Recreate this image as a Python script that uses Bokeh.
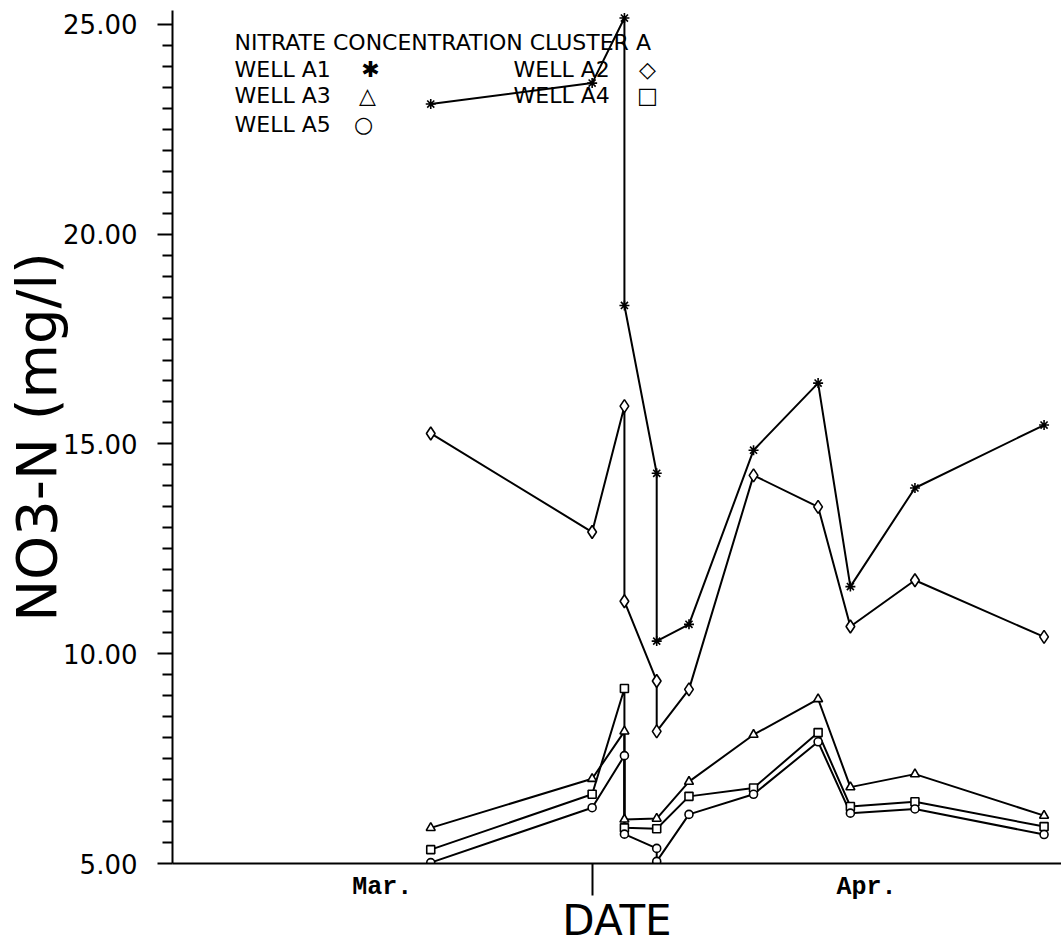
from bokeh.plotting import figure
from bokeh.models import Range1d, FixedTicker, PrintfTickFormatter, Label
from bokeh.embed import file_html
from bokeh.resources import INLINE

# Sampling dates as (month, day); repeated days are successive samples on that day
dates_a1_a2_a5 = [(3, 27), (4, 1), (4, 2), (4, 2), (4, 3), (4, 3), (4, 4),
                  (4, 6), (4, 8), (4, 9), (4, 11), (4, 15)]
dates_a3_a4 = [(3, 27), (4, 1), (4, 2), (4, 2), (4, 3), (4, 4),
               (4, 6), (4, 8), (4, 9), (4, 11), (4, 15)]

# NO3-N concentrations (mg/l)
well_a1 = [23.1, 23.6, 25.15, 18.3, 14.3, 10.3, 10.7, 14.85, 16.45, 11.6, 13.95, 15.45]
well_a2 = [15.25, 12.9, 15.9, 11.25, 9.35, 8.15, 9.15, 14.25, 13.5, 10.65, 11.75, 10.4]
well_a3 = [5.85, 7.02, 8.15, 6.05, 6.07, 6.95, 8.07, 8.92, 6.82, 7.13, 6.14]
well_a4 = [5.33, 6.65, 9.17, 5.85, 5.83, 6.6, 6.8, 8.12, 6.36, 6.47, 5.88]
well_a5 = [5.02, 6.33, 7.57, 5.7, 5.36, 5.05, 6.17, 6.65, 7.9, 6.2, 6.3, 5.69]

y_ticks = [5, 10, 15, 20, 25]
month_names = ["Mar.", "Apr."]


def day_offset(md):
    """Days relative to April 1 (March has 31 days)."""
    m, d = md
    return d - 1 if m == 4 else d - 32


x_a1 = [day_offset(d) for d in dates_a1_a2_a5]
x_a3 = [day_offset(d) for d in dates_a3_a4]

# Visible date window: Mar 19 .. mid April; month names sit mid-way in each month span
x_start, x_end = -13, 14.54
month_label_pos = [(x_start + 0) / 2, (0 + 17) / 2]

p = figure(width=1061, height=948,
           x_range=Range1d(x_start, x_end), y_range=Range1d(5, 25.33),
           output_backend="svg", toolbar_location=None,
           min_border_left=172, min_border_right=0,
           min_border_top=10, min_border_bottom=85)
p.grid.visible = False
p.outline_line_color = None
p.background_fill_color = "white"
p.border_fill_color = "white"

series = [
    (x_a1, well_a1, "asterisk", 10),
    (x_a1, well_a2, "diamond", 13),
    (x_a3, well_a3, "triangle", 9),
    (x_a3, well_a4, "square", 8),
    (x_a1, well_a5, "circle", 8),
]

for xs, ys, _, _ in series:
    p.line(xs, ys, line_color="black", line_width=2)
for xs, ys, marker, size in series:
    p.scatter(xs, ys, marker=marker, size=size, line_color="black",
              fill_color="white", line_width=1.6)

# X axis: month names between ticks, one long tick at the month boundary
xa = p.xaxis[0]
xa.ticker = FixedTicker(ticks=month_label_pos, minor_ticks=[0])
xa.major_label_overrides = {pos: name for pos, name in zip(month_label_pos, month_names)}
xa.major_tick_out = 0
xa.major_tick_in = 0
xa.minor_tick_out = 32
xa.minor_tick_in = 0
xa.minor_tick_line_width = 2
xa.minor_tick_line_color = "black"
xa.axis_line_width = 2
xa.axis_line_color = "black"
xa.major_label_text_font = "Liberation Mono"
xa.major_label_text_font_style = "bold"
xa.major_label_text_font_size = "25px"
xa.major_label_text_color = "black"
xa.major_label_standoff = -23
xa.axis_label = "DATE"
xa.axis_label_text_font = "DejaVu Sans"
xa.axis_label_text_font_style = "normal"
xa.axis_label_text_font_size = "42px"
xa.axis_label_text_color = "black"
xa.axis_label_standoff = -9

# Y axis
ya = p.yaxis[0]
ya.ticker = FixedTicker(ticks=y_ticks,
                        minor_ticks=[5 + 0.5 * i for i in range(41) if i % 10])
ya.formatter = PrintfTickFormatter(format="%.2f")
ya.major_tick_out = 15
ya.major_tick_in = 0
ya.minor_tick_out = 10
ya.minor_tick_in = 0
ya.major_tick_line_width = 2
ya.minor_tick_line_width = 2
ya.axis_line_width = 2
ya.axis_line_color = "black"
ya.major_tick_line_color = "black"
ya.minor_tick_line_color = "black"
ya.major_label_text_font = "DejaVu Sans"
ya.major_label_text_font_size = "26px"
ya.major_label_text_color = "black"
ya.major_label_standoff = 20
ya.axis_label = "NO3-N (mg/l)"
ya.axis_label_text_font = "DejaVu Sans"
ya.axis_label_text_font_style = "normal"
ya.axis_label_text_font_size = "56px"
ya.axis_label_text_color = "black"
ya.axis_label_standoff = -9

# Key block in the upper left of the plot area
key_font = "DejaVu Sans"
key_size = "22px"
key_rows = [
    ("NITRATE CONCENTRATION CLUSTER A", 62, 821, None, 0),
    ("WELL A1", 62, 794, "\u2731", 198),
    ("WELL A2", 341, 794, "\u25C7", 475),
    ("WELL A3", 62, 768, "\u25B3", 195),
    ("WELL A4", 341, 768, "\u25A1", 475),
    ("WELL A5", 62, 739, "\u25CB", 191),
]
for text, kx, ky, sym, sx in key_rows:
    p.add_layout(Label(x=kx, y=ky, x_units="screen", y_units="screen", text=text,
                       text_font=key_font, text_font_size=key_size,
                       text_baseline="alphabetic", text_color="black"))
    if sym:
        p.add_layout(Label(x=sx, y=ky, x_units="screen", y_units="screen", text=sym,
                           text_font=key_font, text_font_size="22px",
                           text_align="center", text_baseline="alphabetic",
                           text_color="black"))

open("out.html", "w").write(file_html(p, INLINE))
